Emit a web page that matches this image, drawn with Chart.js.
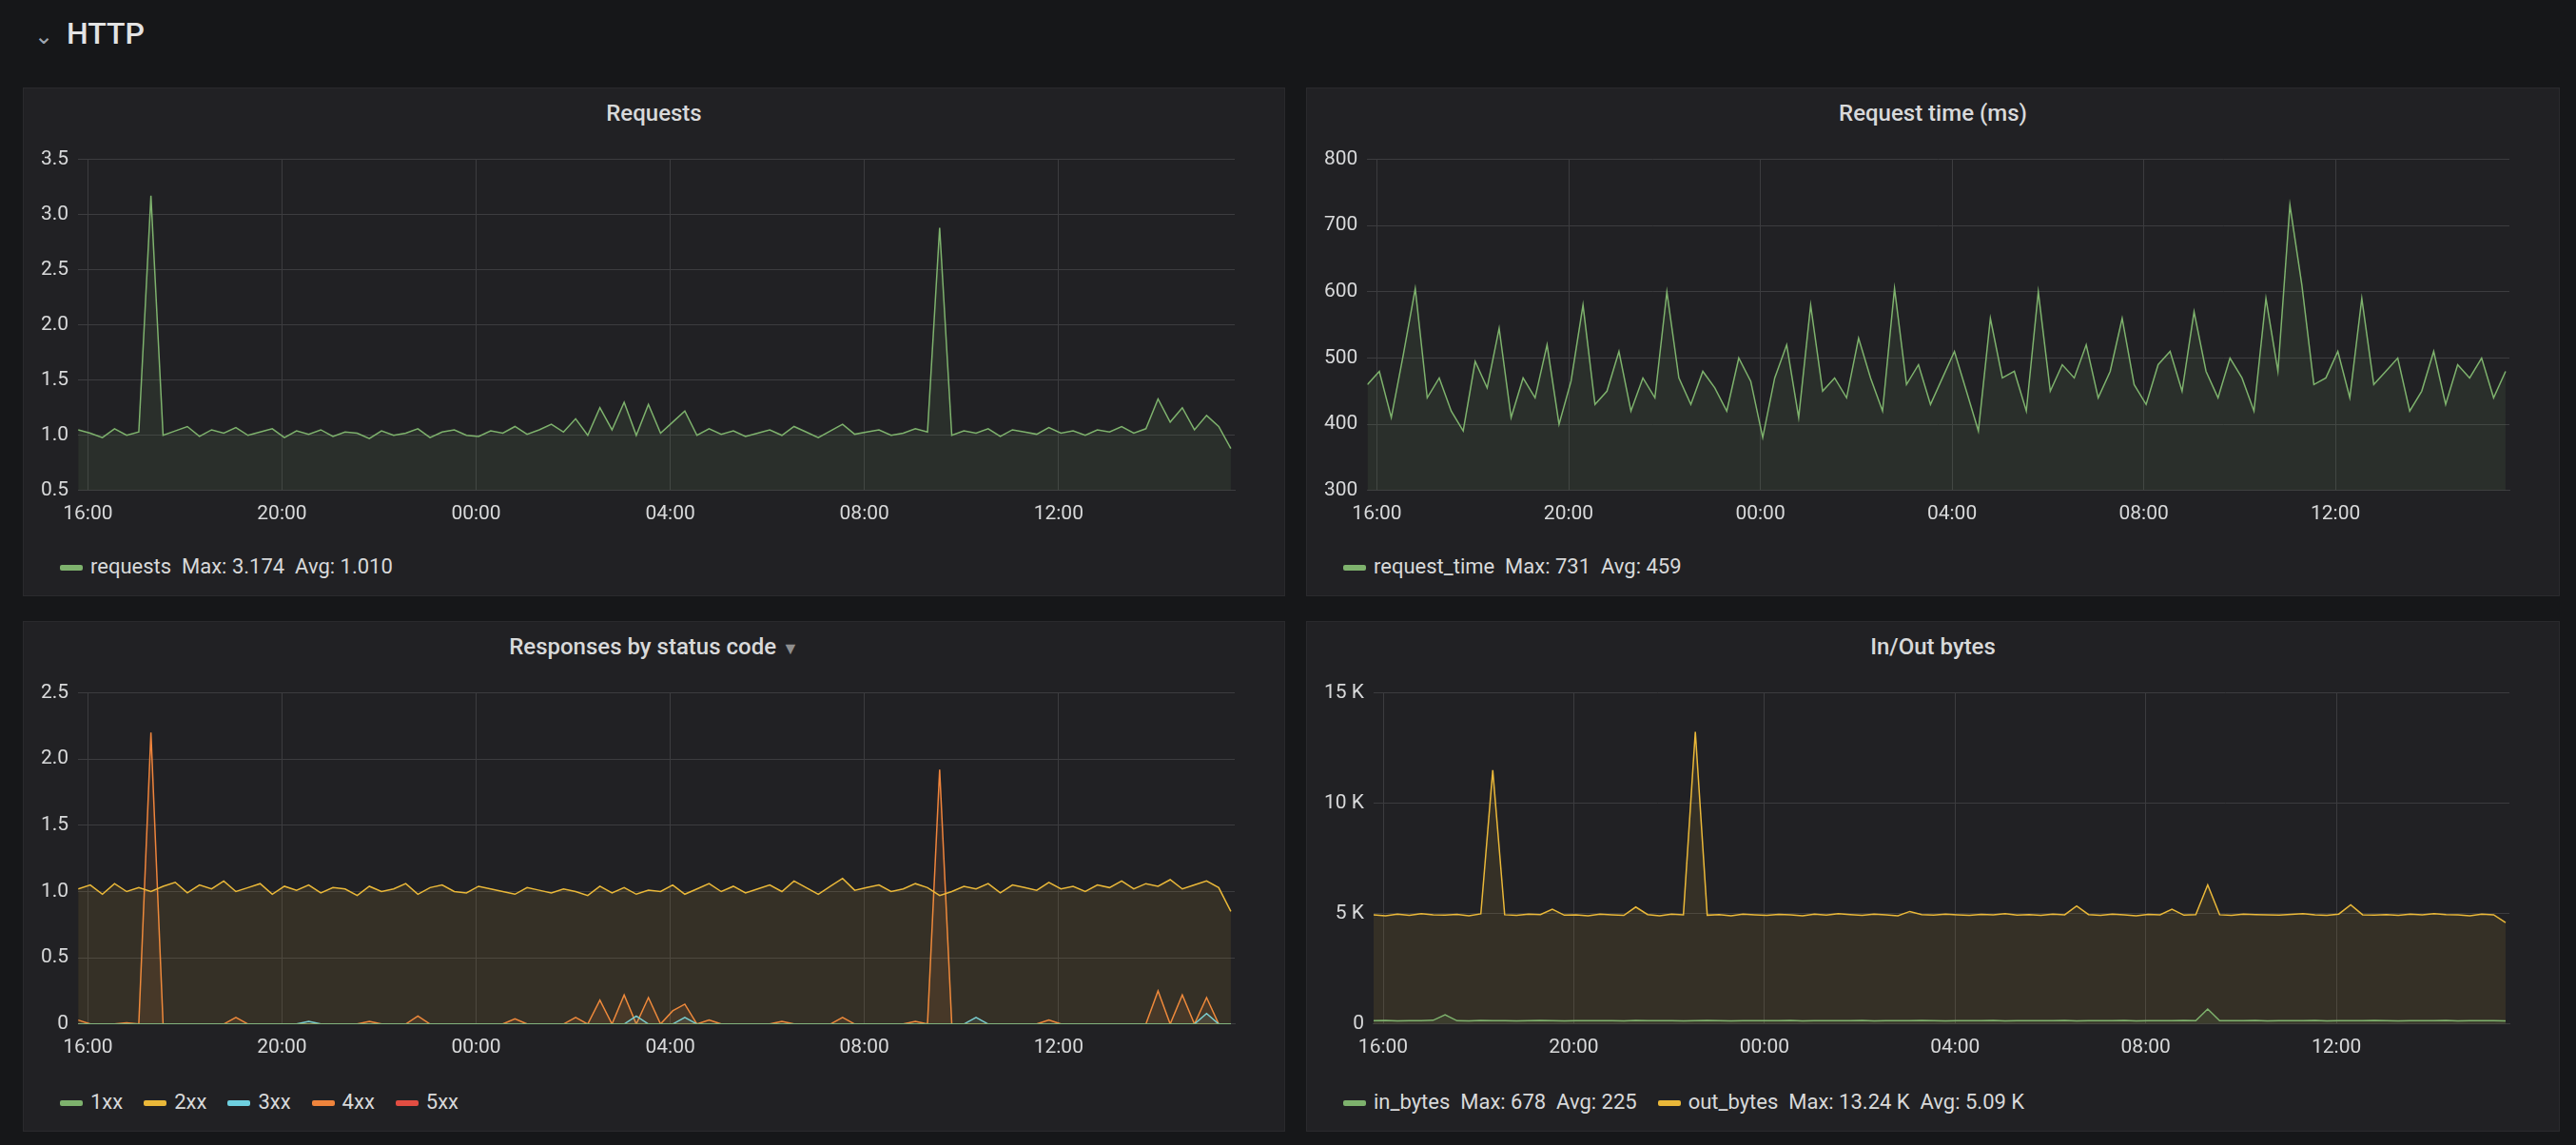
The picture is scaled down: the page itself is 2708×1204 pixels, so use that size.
<!DOCTYPE html>
<html><head><meta charset="utf-8">
<script src="https://cdn.jsdelivr.net/npm/chart.js@4/dist/chart.umd.min.js"></script>
<style>
body{margin:0;background:#161719;width:2708px;height:1204px;overflow:hidden;font-family:Roboto,"Noto Sans",sans-serif;color:#d8d9da}
#hdr{position:absolute;left:36px;top:16px;font-size:32px;font-weight:500;color:#e3e3e3}
#hdr span{color:#9fa7b3;font-size:24px;margin-right:14px}
.panel{position:absolute;background:#212124;border:1px solid #2a2a2d}
.title{position:absolute;left:0;right:0;top:12px;text-align:center;font-size:24px;font-weight:500;color:#d8d9da}
.cv{position:absolute;left:8px;top:52px}
.leg{position:absolute;left:38px;bottom:18px;font-size:22px;color:#d8d9da;white-space:nowrap}
.leg i{display:inline-block;width:24px;height:6px;border-radius:2px;vertical-align:middle;margin:0 8px 0 0}
.leg b{font-weight:400;margin-right:22px}
</style></head><body>
<div id="hdr"><span>⌄</span>HTTP</div>
<div class="panel" style="left:24px;top:92px;width:1325px;height:533px"><div class="title">Requests</div><canvas id="c1" class="cv"></canvas><div class="leg" id="l1"></div></div>
<div class="panel" style="left:1373px;top:92px;width:1316px;height:533px"><div class="title">Request time (ms)</div><canvas id="c2" class="cv"></canvas><div class="leg" id="l2"></div></div>
<div class="panel" style="left:24px;top:653px;width:1325px;height:535px"><div class="title">Responses by status code <span style="color:#8e8e8e;font-size:18px">▼</span></div><canvas id="c3" class="cv"></canvas><div class="leg" id="l3"></div></div>
<div class="panel" style="left:1373px;top:653px;width:1316px;height:535px"><div class="title">In/Out bytes</div><canvas id="c4" class="cv"></canvas><div class="leg" id="l4"></div></div>
<script>
const startHour = 15.8, stepHours = 0.25;
const requests = [1.05,1.02,0.98,1.06,1.0,1.03,3.17,1.0,1.04,1.08,0.99,1.05,1.02,1.07,1.0,1.03,1.06,0.98,1.04,1.01,
1.05,0.99,1.03,1.02,0.97,1.04,1.0,1.02,1.06,0.98,1.03,1.05,1.0,0.99,1.04,1.02,1.08,1.01,1.05,1.1,
1.03,1.15,1.0,1.25,1.05,1.3,1.0,1.28,1.02,1.12,1.22,1.0,1.06,1.01,1.04,0.99,
1.02,1.05,1.0,1.08,1.03,0.98,1.04,1.1,1.01,1.03,1.05,1.0,1.02,1.06,1.03,2.88,
1.0,1.04,1.02,1.06,0.99,1.05,1.03,1.01,1.07,1.02,1.04,1.0,1.05,1.03,1.08,1.02,1.06,1.33,1.12,1.25,1.05,1.18,1.08,0.88];
const requestTime = [460,480,410,505,605,440,470,420,390,495,455,545,410,470,440,520,400,465,580,430,
450,510,420,470,440,600,470,430,480,455,420,500,465,380,470,520,410,580,450,470,
440,530,470,420,605,460,490,430,470,510,450,390,560,470,480,420,600,450,490,470,
520,440,480,560,460,430,490,510,450,570,480,440,500,470,420,590,480,731,610,460,
470,510,440,590,460,480,500,420,450,510,430,490,470,500,440,480];
const s2xx = [1.02,1.05,0.98,1.06,1.0,1.03,1.0,1.04,1.07,0.99,1.05,1.02,1.08,1.0,1.03,1.06,0.98,1.04,1.01,1.05,
0.99,1.03,1.02,0.97,1.04,1.0,1.02,1.06,0.98,1.03,1.05,1.0,0.99,1.04,1.02,1.0,0.98,1.03,1.01,0.99,
1.02,1.0,0.97,1.04,0.99,1.03,0.98,1.01,1.0,1.05,0.98,1.02,1.06,1.0,1.04,0.99,1.02,1.05,1.0,1.08,
1.03,0.98,1.04,1.1,1.01,1.03,1.05,1.0,1.02,1.06,1.03,0.97,1.0,1.04,1.02,1.06,0.99,1.05,1.03,1.01,
1.07,1.02,1.04,1.0,1.05,1.03,1.08,1.02,1.06,1.04,1.09,1.02,1.05,1.08,1.03,0.85];
const s4xx = [0.03,0,0,0,0.01,0,2.2,0,0,0,0,0,0,0.05,0,0,0,0,0,0,
0,0,0,0,0.02,0,0,0,0.06,0,0,0,0,0,0,0,0.04,0,0,0,
0,0.05,0,0.18,0,0.22,0,0.2,0,0.1,0.15,0,0.03,0,0,0,0,0,0.02,0,
0,0,0,0.05,0,0,0,0,0,0.02,0,1.92,0,0,0,0,0,0,0,0,
0.03,0,0,0,0,0,0,0,0,0.25,0,0.22,0,0.2,0,0];
const s3xx = [0,0,0,0,0,0,0,0,0,0,0,0,0,0,0,0,0,0,0,0.02,
0,0,0,0,0,0,0,0,0,0,0,0,0,0,0,0,0,0,0,0,
0,0,0,0,0,0,0.06,0,0,0,0.05,0,0,0,0,0,0,0,0,0,
0,0,0,0,0,0,0,0,0,0,0,0,0,0,0.05,0,0,0,0,0,
0,0,0,0,0,0,0,0,0,0,0,0,0,0.08,0,0];
const s1xx = new Array(96).fill(0);
const s5xx = new Array(96).fill(0);
const inBytes = [150,160,140,155,150,170,420,150,145,160,150,155,140,150,160,150,145,150,155,150,
150,145,160,150,155,150,140,150,160,150,145,150,155,150,150,160,145,150,155,150,
150,160,145,150,155,150,160,150,145,150,155,150,160,145,150,155,150,150,160,145,
150,155,150,160,145,150,155,150,160,150,678,150,155,150,160,145,150,155,150,160,
145,150,155,150,160,150,145,150,155,150,160,145,150,155,150,140];
const outBytes = [4950,4900,4980,4920,5000,4950,4930,4970,4900,4990,11500,4950,4920,4980,4960,5200,4930,4950,4900,4980,
4950,4920,5300,4960,4900,4980,4950,13240,4930,4960,4900,4980,4950,4920,4970,4950,4900,4980,4940,5000,
4960,4920,4980,4950,4900,5100,4960,4930,4980,4950,4920,4970,4950,5000,4930,4960,4920,4980,4950,5350,
4960,4920,4980,4950,4900,4970,4950,5200,4930,4960,6300,4950,4920,4980,4960,4950,4930,4970,5000,4950,
4920,4980,5400,4950,4930,4960,4920,4980,4950,5000,4960,4950,4900,4980,4950,4600];
const xTicks = [16,20,24,28,32,36];

const pts = a => a.map((v,i)=>({x:startHour+i*stepHours,y:v}));
const C = {green:'#7eb26d',yellow:'#eab839',cyan:'#6ed0e0',orange:'#ef843c',red:'#e24d42'};
const rgba=(h,a)=>{const n=parseInt(h.slice(1),16);return `rgba(${n>>16},${(n>>8)&255},${n&255},${a})`;};
const tickFont={family:'Roboto',size:21};
function ds(label,data,color){return {label,data:pts(data),borderColor:color,backgroundColor:rgba(color,0.1),borderWidth:1.5,pointRadius:0,fill:'origin',tension:0};}
function make(id,w,datasets,ymin,ymax,step,fmt){
  const cv=document.getElementById(id);cv.width=w;cv.height=420;cv.style.width=w+'px';cv.style.height='420px';
  new Chart(cv,{type:'line',data:{datasets},options:{responsive:false,animation:false,
    plugins:{legend:{display:false},tooltip:{enabled:false}},
    layout:{padding:{right:40,top:4}},
    scales:{
      x:{type:'linear',min:startHour,max:39.63,afterBuildTicks:a=>{a.ticks=xTicks.map(v=>({value:v}));},
        ticks:{color:'#d8d9da',font:tickFont,maxRotation:0,padding:12,callback:v=>String(v%24).padStart(2,'0')+':00'},
        grid:{color:'#3c3c3f',drawTicks:false},border:{color:'#3c3c3f'}},
      y:{min:ymin,max:ymax,ticks:{stepSize:step,color:'#d8d9da',font:tickFont,padding:10,callback:fmt},
        grid:{color:'#3c3c3f',drawTicks:false},border:{display:false}}
    }}});
}
make('c1',1305,[ds('requests',requests,C.green)],0.5,3.5,0.5,v=>v.toFixed(1));
make('c2',1296,[ds('request_time',requestTime,C.green)],300,800,100,v=>v);
make('c3',1305,[ds('1xx',s1xx,C.green),ds('2xx',s2xx,C.yellow),ds('3xx',s3xx,C.cyan),ds('4xx',s4xx,C.orange),ds('5xx',s5xx,C.red)],0,2.5,0.5,v=>v===0?'0':v.toFixed(1));
make('c4',1296,[ds('in_bytes',inBytes,C.green),ds('out_bytes',outBytes,C.yellow)],0,15000,5000,v=>v===0?'0':(v/1000)+' K');
const item=(c,t)=>`<i style="background:${c}"></i><b>${t}</b>`;
document.getElementById('l1').innerHTML=item(C.green,'requests&nbsp; Max: 3.174&nbsp; Avg: 1.010');
document.getElementById('l2').innerHTML=item(C.green,'request_time&nbsp; Max: 731&nbsp; Avg: 459');
document.getElementById('l3').innerHTML=item(C.green,'1xx')+item(C.yellow,'2xx')+item(C.cyan,'3xx')+item(C.orange,'4xx')+item(C.red,'5xx');
document.getElementById('l4').innerHTML=item(C.green,'in_bytes&nbsp; Max: 678&nbsp; Avg: 225')+item(C.yellow,'out_bytes&nbsp; Max: 13.24 K&nbsp; Avg: 5.09 K');
</script></body></html>
